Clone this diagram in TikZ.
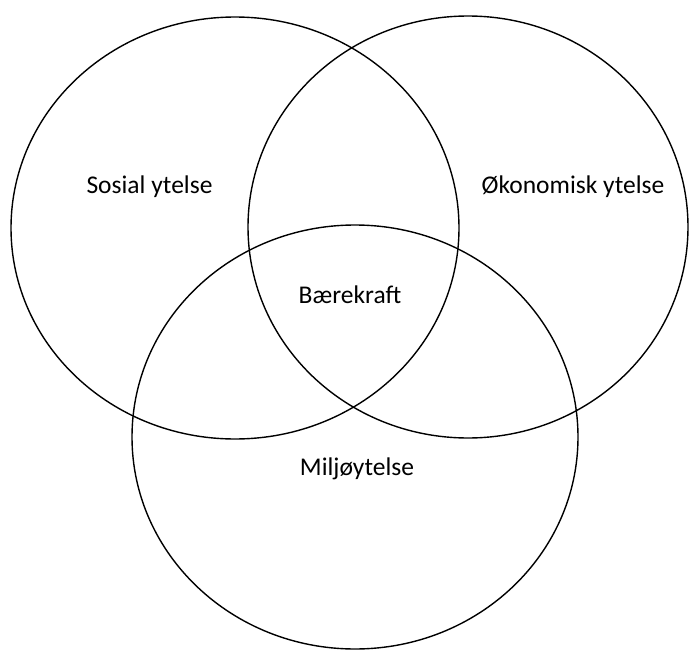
\documentclass[tikz,border=0pt]{standalone}
\usepackage{fontspec}
\setmainfont{Carlito}
\begin{document}
\begin{tikzpicture}[x=1pt,y=-1pt,
  ring/.style={draw=black,line width=1.4pt},
  lbl/.style={font=\fontsize{25.5}{30}\selectfont,inner sep=0pt,anchor=base}]
\useasboundingbox (0,0) rectangle (689,653);
\draw[ring] (235,228) ellipse [x radius=224, y radius=211];
\draw[ring] (468,227) ellipse [x radius=220, y radius=211];
\draw[ring] (355,437) ellipse [x radius=223, y radius=212];
\node[lbl] (sos) at (149.5,193) {Sosial ytelse};
\node[lbl] (oko) at (573,193) {Økonomisk ytelse};
\node[lbl] (bae) at (350,303) {Bærekraft};
\node[lbl] (mil) at (357,475) {Miljøytelse};
\end{tikzpicture}
\end{document}
